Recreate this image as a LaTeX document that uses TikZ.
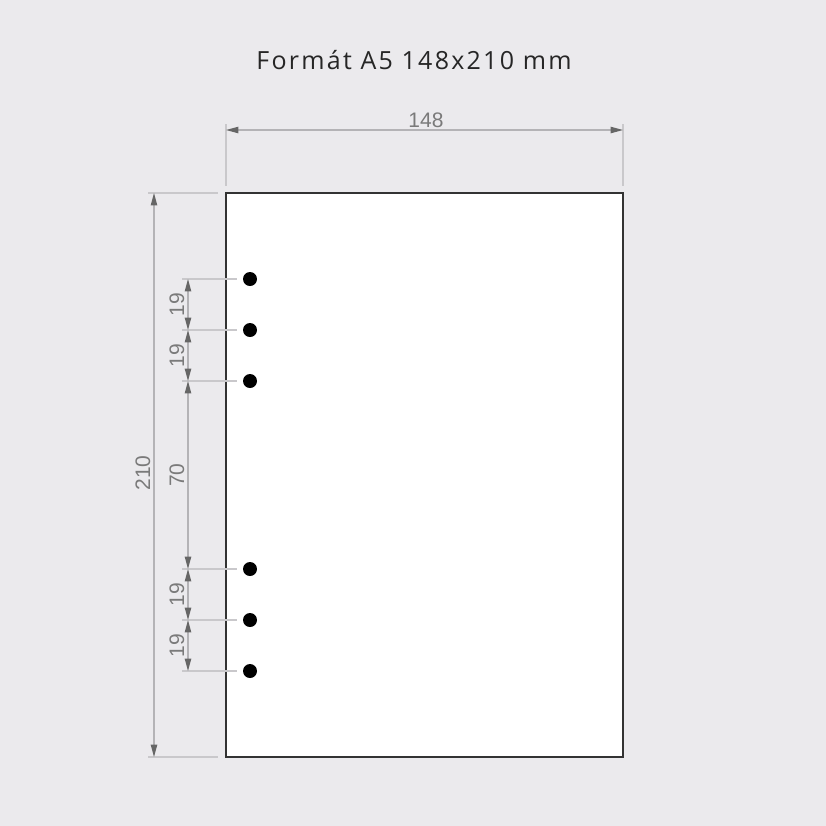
\documentclass[tikz,border=0pt]{standalone}
\usepackage{fontspec}
\setmainfont{Liberation Sans}
\newfontfamily\titlefont[LetterSpace=9]{Open Sans}
\usetikzlibrary{arrows.meta}

\definecolor{backgr}{HTML}{EBEAED}
\definecolor{extgray}{HTML}{C9C8CB}
\definecolor{dimgray}{HTML}{B4B3B6}
\definecolor{tipgray}{HTML}{666666}
\definecolor{labelgray}{HTML}{7A7A7A}

\tikzset{
  hole/.style={circle,fill=black,inner sep=0pt,minimum size=7pt},
  extline/.style={extgray,line width=0.55pt},
  dimline/.style={dimgray,line width=0.55pt,
    {Triangle[length=6.2pt,width=3.2pt,color=tipgray]}-{Triangle[length=6.2pt,width=3.2pt,color=tipgray]}},
  dimlabel/.style={labelgray,font=\fontsize{10.5}{12}\selectfont,inner sep=0pt}
}

\begin{document}
\begin{tikzpicture}[x=0.5pt,y=-0.5pt]

    \fill[backgr] (0,0) rectangle (826,826);
    \node[text=black!85,font=\titlefont\fontsize{12.5}{14}\selectfont] (title) at (414,60) {Formát A5 148x210 mm};

    % page
    \draw[fill=white,draw=black!80,line width=1pt] (226,193) rectangle (623,757);

    % holes
    \foreach \y/\n in {279/h1,330/h2,381/h3,569/h4,620/h5,671/h6}{
        \node[hole] (\n) at (250,\y) {};
        \coordinate (e\n) at (182,\y);
        \coordinate (d\n) at (188,\y);
        \draw[extline] (e\n) -- ([xshift=-3pt]\n.west);
    }

    % width
    \coordinate (tl) at (226,193);
    \coordinate (tr) at (623,193);
    \coordinate (tlu) at (226,124);
    \coordinate (tru) at (623,124);
    \draw[extline] (tlu) -- ([yshift=3.5pt]tl);
    \draw[extline] (tru) -- ([yshift=3.5pt]tr);
    \coordinate (wa) at (226,130);
    \coordinate (wb) at (623,130);
    \draw[dimline] (wa) -- (wb);
    \node[dimlabel] (wlab) at (426,120) {148};

    % height
    \coordinate (bl) at (226,757);
    \coordinate (tll) at (148,193);
    \coordinate (bll) at (148,757);
    \draw[extline] (tll) -- ([xshift=-4pt]tl);
    \draw[extline] (bll) -- ([xshift=-4pt]bl);
    \coordinate (ha) at (154,193);
    \coordinate (hb) at (154,757);
    \draw[dimline] (ha) -- (hb);
    \node[dimlabel,rotate=90] (hlab) at (143,473) {210};

    % hole spacing
    \draw[dimline] (dh1) -- (dh2) node[dimlabel,midway,left=1.5pt,rotate=90,anchor=south] (l1) {19};
    \draw[dimline] (dh2) -- (dh3) node[dimlabel,midway,left=1.5pt,rotate=90,anchor=south] (l2) {19};
    \draw[dimline] (dh3) -- (dh4) node[dimlabel,midway,left=1.5pt,rotate=90,anchor=south] (l3) {70};
    \draw[dimline] (dh4) -- (dh5) node[dimlabel,midway,left=1.5pt,rotate=90,anchor=south] (l4) {19};
    \draw[dimline] (dh5) -- (dh6) node[dimlabel,midway,left=1.5pt,rotate=90,anchor=south] (l5) {19};

\end{tikzpicture}
\end{document}
